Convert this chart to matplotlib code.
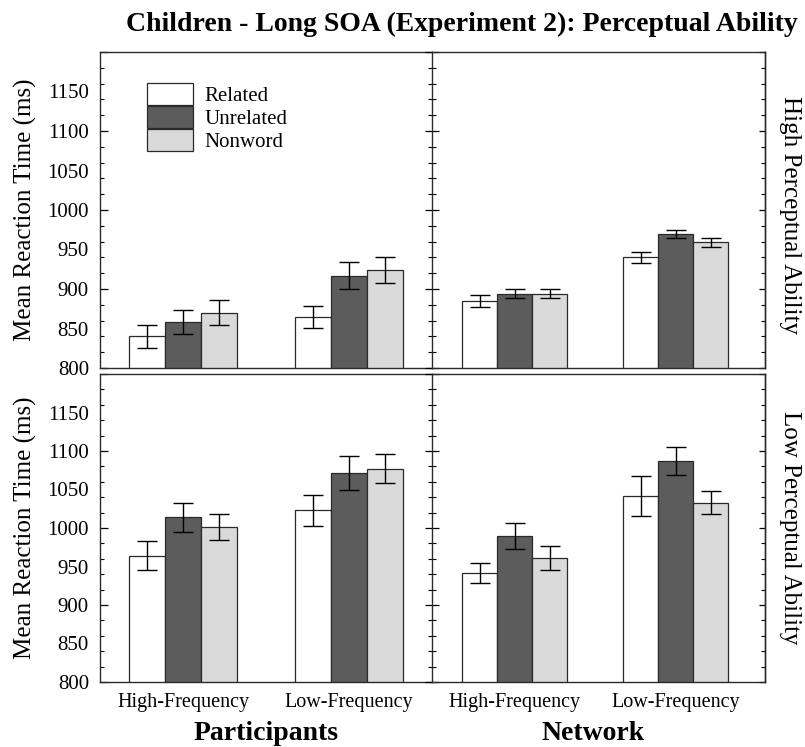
import matplotlib.pyplot as plt
from matplotlib.ticker import MultipleLocator
from matplotlib.patches import Patch

plt.rcParams['font.family'] = ['Liberation Serif', 'DejaVu Serif']

categories = ['High-Frequency', 'Low-Frequency']
conditions = ['Related', 'Unrelated', 'Nonword']
y_labels = [800, 850, 900, 950, 1000, 1050, 1100, 1150]

# participants, high perceptual ability
part_high_rel = [840, 865]
part_high_unrel = [858, 917]
part_high_non = [870, 924]
part_high_rel_err = [15, 14]
part_high_unrel_err = [15, 17]
part_high_non_err = [16, 17]

# network, high perceptual ability
net_high_rel = [885, 940]
net_high_unrel = [894, 970]
net_high_non = [894, 959]
net_high_rel_err = [8, 7]
net_high_unrel_err = [6, 5]
net_high_non_err = [6, 6]

# participants, low perceptual ability
part_low_rel = [964, 1023]
part_low_unrel = [1014, 1072]
part_low_non = [1001, 1077]
part_low_rel_err = [19, 20]
part_low_unrel_err = [19, 22]
part_low_non_err = [17, 19]

# network, low perceptual ability
net_low_rel = [941, 1041]
net_low_unrel = [990, 1087]
net_low_non = [961, 1033]
net_low_rel_err = [13, 26]
net_low_unrel_err = [17, 18]
net_low_non_err = [16, 15]

colors = ['white', '#5c5c5c', '#dadada']
edge = '#2a2a2a'
W, H = 805, 747

fig = plt.figure(figsize=(8.05, 7.47), dpi=100)


def add_ax(x0, y0, x1, y1):
    return fig.add_axes([x0 / W, 1 - y1 / H, (x1 - x0) / W, (y1 - y0) / H])


ax_tl = add_ax(100, 52, 432, 368)
ax_tr = add_ax(432, 52, 765, 368)
ax_bl = add_ax(100, 374, 432, 682)
ax_br = add_ax(432, 374, 765, 682)

panels = [
    (ax_tl, [part_high_rel, part_high_unrel, part_high_non],
     [part_high_rel_err, part_high_unrel_err, part_high_non_err]),
    (ax_tr, [net_high_rel, net_high_unrel, net_high_non],
     [net_high_rel_err, net_high_unrel_err, net_high_non_err]),
    (ax_bl, [part_low_rel, part_low_unrel, part_low_non],
     [part_low_rel_err, part_low_unrel_err, part_low_non_err]),
    (ax_br, [net_low_rel, net_low_unrel, net_low_non],
     [net_low_rel_err, net_low_unrel_err, net_low_non_err]),
]

width = 0.435
centers = [1, 3]

for ax, vals, errs in panels:
    for i in range(3):
        xs = [c + (i - 1) * width for c in centers]
        ax.bar(xs, vals[i], width, color=colors[i], edgecolor=edge, linewidth=0.9, zorder=2)
        ax.errorbar(xs, vals[i], yerr=errs[i], fmt='none', ecolor='black',
                    elinewidth=1.0, capsize=7.5, capthick=1.0, zorder=3)
    ax.set_ylim(800, 1200)
    ax.set_xticks(centers, categories)
    ax.tick_params(axis='x', length=0, pad=8, labelsize=14.5)
    ax.yaxis.set_major_locator(MultipleLocator(100))
    ax.yaxis.set_minor_locator(MultipleLocator(20))
    for s in ax.spines.values():
        s.set_linewidth(1.0)
        s.set_color(edge)

ax_tl.set_xlim(0, 4)
ax_bl.set_xlim(0, 4)
ax_tr.set_xlim(-0.025, 4.11)
ax_br.set_xlim(-0.025, 4.11)

for ax in [ax_tl, ax_tr]:
    ax.tick_params(axis='x', labelbottom=False)

for ax in [ax_tl, ax_bl]:
    ax.spines['right'].set_visible(False)
    ax.tick_params(axis='y', which='both', direction='in', left=True, right=False,
                   labelleft=False)
    ax.tick_params(axis='y', which='major', length=5.5, width=0.9)
    ax.tick_params(axis='y', which='minor', length=3, width=0.8)
    lab = ax.secondary_yaxis('left')
    lab.set_yticks(y_labels)
    lab.tick_params(length=0, pad=8, labelsize=15)
    lab.spines['left'].set_visible(False)

for ax in [ax_tr, ax_br]:
    ax.tick_params(axis='y', which='both', direction='inout', left=True, right=False,
                   labelleft=False)
    ax.tick_params(axis='y', which='major', length=10, width=0.9)
    ax.tick_params(axis='y', which='minor', length=6, width=0.8)
    rs = ax.secondary_yaxis('right')
    rs.yaxis.set_major_locator(MultipleLocator(100))
    rs.yaxis.set_minor_locator(MultipleLocator(20))
    rs.tick_params(which='both', direction='in', labelright=False)
    rs.tick_params(which='major', length=4.5, width=0.9)
    rs.tick_params(which='minor', length=3, width=0.8)
    rs.spines['right'].set_linewidth(1.0)
    rs.spines['right'].set_color(edge)

handles = [Patch(facecolor=colors[i], edgecolor=edge, linewidth=0.9) for i in range(3)]
ax_tl.legend(handles, conditions, loc='upper left', bbox_to_anchor=(0.1407, 0.903),
             frameon=False, fontsize=15, handlelength=2.2, handleheight=1.25,
             labelspacing=0, borderpad=0, borderaxespad=0, handletextpad=0.55)

fig.text(462 / W, 1 - 24 / H, 'Children - Long SOA (Experiment 2): Perceptual Ability',
         ha='center', va='center', fontsize=20, fontweight='bold')
fig.text(25 / W, 1 - 210 / H, 'Mean Reaction Time (ms)', rotation=90,
         ha='center', va='center', fontsize=18)
fig.text(25 / W, 1 - 528 / H, 'Mean Reaction Time (ms)', rotation=90,
         ha='center', va='center', fontsize=18)
fig.text(790 / W, 1 - 215 / H, 'High Perceptual Ability', rotation=270,
         ha='center', va='center', fontsize=18)
fig.text(790 / W, 1 - 528 / H, 'Low Perceptual Ability', rotation=270,
         ha='center', va='center', fontsize=18)
fig.text(266 / W, 1 - 734 / H, 'Participants', ha='center', va='center',
         fontsize=20, fontweight='bold')
fig.text(593 / W, 1 - 734 / H, 'Network', ha='center', va='center',
         fontsize=20, fontweight='bold')

fig.savefig('out.png', dpi=100)
